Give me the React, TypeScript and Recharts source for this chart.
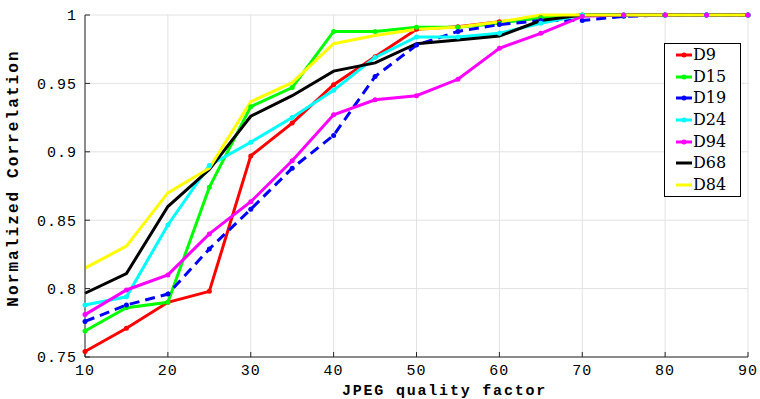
import React from 'react';
import { LineChart, Line, XAxis, YAxis, CartesianGrid, Legend, Label } from 'recharts';

const quality = [10, 15, 20, 25, 30, 35, 40, 45, 50, 55, 60, 65, 70, 75, 80, 85, 90];
const d9 = [0.754, 0.771, 0.79, 0.798, 0.897, 0.921, 0.949, 0.9695, 0.9895, 0.9915, 0.995, 0.998, 1.0, 1.0, 1.0, 1.0, 1.0];
const d15 = [0.769, 0.786, 0.79, 0.874, 0.933, 0.947, 0.988, 0.988, 0.991, 0.991, 0.994, 0.998, 1.0, 1.0, 1.0, 1.0, 1.0];
const d19 = [0.776, 0.788, 0.796, 0.829, 0.858, 0.888, 0.912, 0.955, 0.978, 0.988, 0.993, 0.996, 0.996, 0.999, 1.0, 1.0, 1.0];
const d24 = [0.788, 0.794, 0.8465, 0.89, 0.907, 0.925, 0.945, 0.969, 0.984, 0.984, 0.9866, 0.994, 1.0, 1.0, 1.0, 1.0, 1.0];
const d94 = [0.781, 0.799, 0.81, 0.84, 0.8635, 0.8935, 0.927, 0.938, 0.941, 0.953, 0.9757, 0.9866, 0.999, 1.0, 1.0, 1.0, 1.0];
const d68 = [0.7966, 0.811, 0.86, 0.887, 0.926, 0.941, 0.959, 0.965, 0.979, 0.9817, 0.9846, 0.996, 1.0, 1.0, 1.0, 1.0, 1.0];
const d84 = [0.815, 0.831, 0.87, 0.888, 0.9366, 0.9505, 0.979, 0.985, 0.9895, 0.991, 0.995, 1.0, 1.0, 1.0, 1.0, 1.0, 1.0];

const seriesNames = ['D9', 'D15', 'D19', 'D24', 'D94', 'D68', 'D84'];
const seriesValues = [d9, d15, d19, d24, d94, d68, d84];
const xTicks = [10, 20, 30, 40, 50, 60, 70, 80, 90];
const yTicks = [0.75, 0.8, 0.85, 0.9, 0.95, 1];
const xLabel = 'JPEG quality factor';
const yLabel = 'Normalized Correlation';

const styles: Record<string, { color: string; dashed: boolean; dot: boolean }> = {
  D9: { color: '#ff0000', dashed: false, dot: true },
  D15: { color: '#00ff00', dashed: false, dot: true },
  D19: { color: '#0000ff', dashed: true, dot: true },
  D24: { color: '#00ffff', dashed: false, dot: true },
  D94: { color: '#ff00ff', dashed: false, dot: true },
  D68: { color: '#000000', dashed: false, dot: false },
  D84: { color: '#ffff00', dashed: false, dot: false },
};

const data = quality.map((q, i) => {
  const row: Record<string, number> = { q };
  seriesNames.forEach((n, k) => {
    row[n] = seriesValues[k][i];
  });
  return row;
});

const axisColor = '#262626';
const tickFont = { fill: '#000', fontFamily: 'Liberation Mono', fontSize: 15, letterSpacing: 1 };
const labelFont = { fill: '#000', fontFamily: 'Liberation Mono', fontWeight: 'bold' as const };

const renderLegend = () => (
  <div
    style={{
      width: 77,
      height: 154,
      border: '1px solid #000',
      background: '#fff',
      boxSizing: 'border-box',
      fontFamily: 'DejaVu Serif',
      fontSize: 16,
      color: '#000',
    }}
  >
    {seriesNames.map((n) => {
      const s = styles[n];
      return (
        <div key={n} style={{ display: 'flex', alignItems: 'center', height: 21.7 }}>
          <svg width={28} height={10} style={{ display: 'block' }}>
            <line
              x1={11}
              y1={5}
              x2={27}
              y2={5}
              stroke={s.color}
              strokeWidth={3}
              strokeDasharray={s.dashed ? '6 4' : undefined}
            />
            {s.dot && <circle cx={19} cy={5} r={2.5} fill={s.color} />}
          </svg>
          <span style={{ lineHeight: '16px' }}>{n}</span>
        </div>
      );
    })}
  </div>
);

export default function App() {
  return (
    <div style={{ position: 'absolute', left: 0, top: 0, width: 760, height: 399, background: '#fff' }}>
      <LineChart width={760} height={399} data={data} margin={{ top: 15, right: 12, left: 0, bottom: 0 }}>
        <CartesianGrid stroke="#e2e2e2" strokeWidth={1} />
        <XAxis
          dataKey="q"
          type="number"
          domain={[10, 90]}
          ticks={xTicks}
          interval={0}
          height={42}
          tickSize={-5}
          tickMargin={12}
          axisLine={{ stroke: axisColor }}
          tickLine={{ stroke: axisColor }}
          tick={tickFont}
        >
          <Label
            content={(props: any) => {
              const vb = props.viewBox;
              return (
                <text
                  x={vb.x + vb.width / 2 + 28}
                  y={vb.y + 38}
                  textAnchor="middle"
                  fontSize={15}
                  letterSpacing={1.8}
                  {...labelFont}
                >
                  {xLabel}
                </text>
              );
            }}
          />
        </XAxis>
        <XAxis
          xAxisId="top"
          orientation="top"
          dataKey="q"
          type="number"
          domain={[10, 90]}
          ticks={xTicks}
          interval={0}
          height={0}
          tickSize={-5}
          tickFormatter={() => ''}
          axisLine={{ stroke: axisColor }}
          tickLine={{ stroke: axisColor }}
        />
        <YAxis
          type="number"
          domain={[0.75, 1]}
          ticks={yTicks}
          interval={0}
          width={85}
          tickSize={-5}
          tickMargin={13}
          axisLine={{ stroke: axisColor }}
          tickLine={{ stroke: axisColor }}
          tick={tickFont}
        >
          <Label
            content={(props: any) => {
              const vb = props.viewBox;
              const cx = vb.x + 14;
              const cy = vb.y + vb.height / 2 - 8;
              return (
                <text
                  x={cx}
                  y={cy}
                  transform={`rotate(-90 ${cx} ${cy})`}
                  textAnchor="middle"
                  dominantBaseline="central"
                  fontSize={16}
                  letterSpacing={2.1}
                  {...labelFont}
                >
                  {yLabel}
                </text>
              );
            }}
          />
        </YAxis>
        <YAxis
          yAxisId="right"
          orientation="right"
          type="number"
          domain={[0.75, 1]}
          ticks={yTicks}
          interval={0}
          width={0}
          tickSize={-5}
          tickFormatter={() => ''}
          axisLine={{ stroke: axisColor }}
          tickLine={{ stroke: axisColor }}
        />
        <Legend
          content={renderLegend}
          layout="horizontal"
          verticalAlign="middle"
          align="center"
          wrapperStyle={{ left: 664, top: 43, width: 77, height: 154 }}
        />
        {seriesNames.map((n) => {
          const s = styles[n];
          return (
            <Line
              key={n}
              dataKey={n}
              type="linear"
              stroke={s.color}
              strokeWidth={3}
              strokeDasharray={s.dashed ? '10 6' : undefined}
              dot={s.dot ? { r: 2.5, fill: s.color, stroke: s.color, strokeWidth: 0 } : false}
              activeDot={false}
              isAnimationActive={false}
            />
          );
        })}
      </LineChart>
    </div>
  );
}
